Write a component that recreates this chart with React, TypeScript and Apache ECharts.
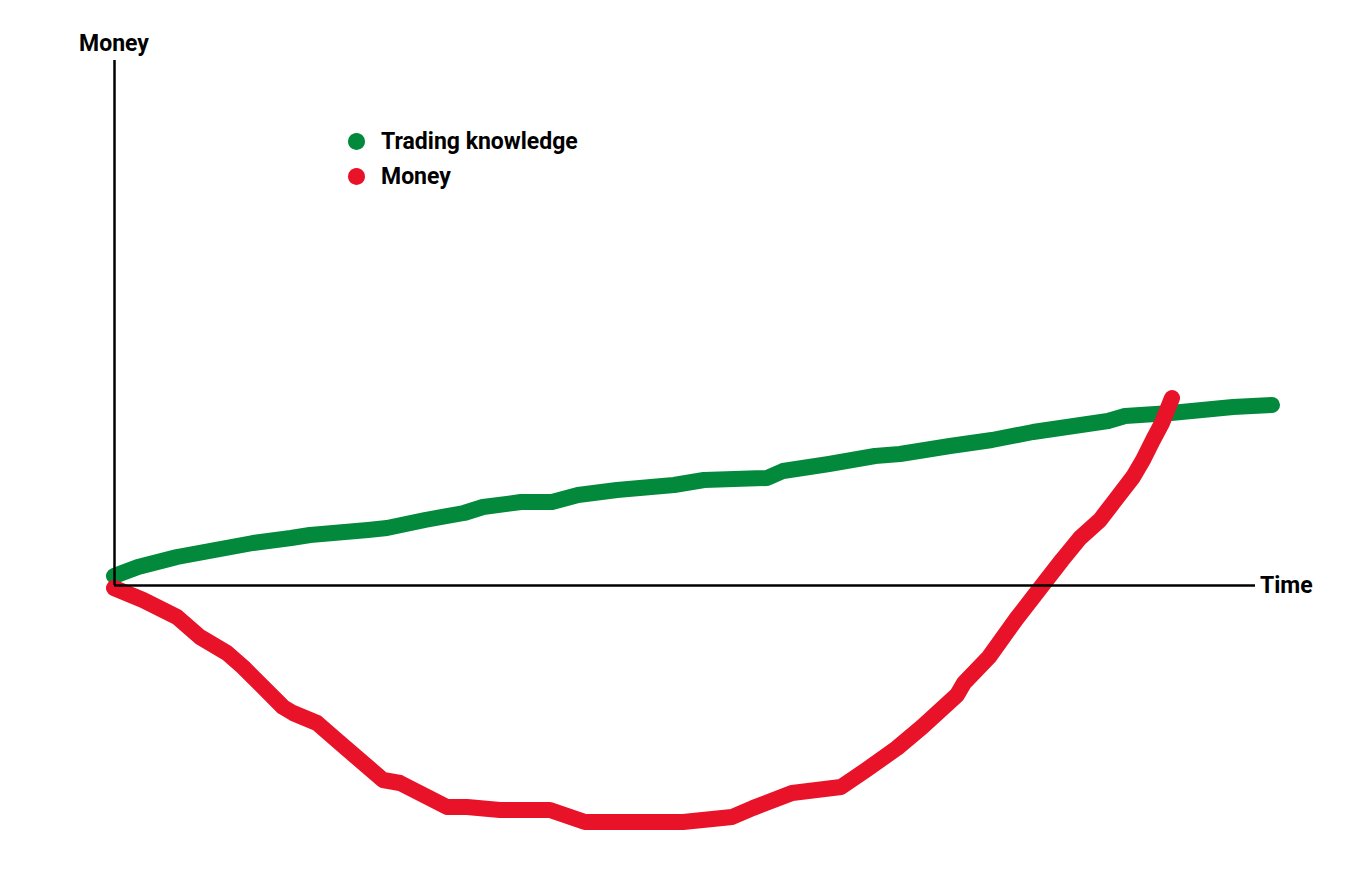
import React, { useEffect, useRef } from "react";
import * as echarts from "echarts";

// Trading knowledge curve (time, level)
const knowledgeTime = [0, 24, 63, 101, 139, 177, 196, 254, 273, 311, 350, 369, 407, 438, 464, 503, 560, 590, 653, 669, 715, 761, 786, 836, 878, 919, 994, 1011, 1057, 1119, 1158];
const knowledgeLevel = [9, 18, 28, 35, 42, 47, 50, 55, 57, 65, 72, 78, 83, 83, 90, 95, 100, 105, 107, 114, 121, 129, 131, 139, 145, 153, 164, 169, 172, 178, 180];

// Money curve (time, amount)
const moneyTime = [0, 29, 63, 86, 113, 129, 169, 179, 203, 226, 269, 286, 333, 353, 386, 436, 471, 569, 618, 639, 678, 727, 752, 783, 808, 843, 850, 875, 903, 927, 948, 966, 986, 999, 1019, 1029, 1039, 1048, 1058];
const moneyLevel = [-3, -15, -32, -52, -68, -82, -122, -128, -138, -158, -195, -198, -222, -222, -225, -225, -237, -237, -232, -223, -208, -202, -185, -163, -142, -110, -98, -72, -33, -2, 25, 47, 65, 82, 108, 125, 145, 162, 187];

const seriesNames = ["Trading knowledge", "Money"];
const axisNames = { x: "Time", y: "Money" };
const timeAxisEnd = 1141;
const moneyAxisTop = 525;

const zip = (xs: number[], ys: number[]) => xs.map((x, i) => [x, ys[i]]);

export default function App() {
  const ref = useRef<HTMLDivElement>(null);
  useEffect(() => {
    if (!ref.current) return;
    const chart = echarts.init(ref.current, undefined, { renderer: "svg" });
    const font = "Roboto, 'Noto Sans', sans-serif";
    const axisLabelStyle = {
      show: true,
      position: "end" as const,
      color: "#000",
      fontSize: 23,
      fontWeight: "bold" as const,
      fontFamily: font,
    };
    chart.setOption({
      animation: false,
      backgroundColor: "#fff",
      grid: { left: 114, right: 79, top: 60, bottom: 28 },
      xAxis: { type: "value", min: 0, max: 1165, show: false },
      yAxis: { type: "value", min: -262, max: 525, show: false },
      legend: {
        data: seriesNames,
        orient: "vertical",
        left: 343,
        top: 125,
        icon: "circle",
        itemWidth: 17,
        itemHeight: 17,
        itemGap: 12,
        selectedMode: false,
        textStyle: {
          color: "#000",
          fontSize: 23,
          fontWeight: "bold",
          fontFamily: font,
          padding: [0, 0, 0, 11],
        },
      },
      series: [
        {
          name: "axes",
          type: "line",
          data: [],
          z: 1,
          silent: true,
          markLine: {
            silent: true,
            symbol: ["none", "none"],
            lineStyle: { color: "#000", width: 2.5, type: "solid" },
            emphasis: { disabled: true },
            data: [
              [
                { coord: [0, 0] },
                { coord: [timeAxisEnd, 0], label: { ...axisLabelStyle, formatter: axisNames.x, distance: 5 } },
              ],
              [
                { coord: [0, 0] },
                { coord: [0, moneyAxisTop], label: { ...axisLabelStyle, formatter: axisNames.y, distance: 5 } },
              ],
            ],
          },
        },
        {
          name: seriesNames[0],
          type: "line",
          z: 3,
          data: zip(knowledgeTime, knowledgeLevel),
          symbol: "none",
          color: "#02893B",
          lineStyle: { width: 16, cap: "round", join: "round", color: "#02893B" },
        },
        {
          name: seriesNames[1],
          type: "line",
          z: 4,
          data: zip(moneyTime, moneyLevel),
          symbol: "none",
          color: "#E81229",
          lineStyle: { width: 16, cap: "round", join: "round", color: "#E81229" },
        },
      ],
    });
    return () => chart.dispose();
  }, []);
  return <div ref={ref} style={{ position: "absolute", left: 0, top: 0, width: 1358, height: 875 }} />;
}
